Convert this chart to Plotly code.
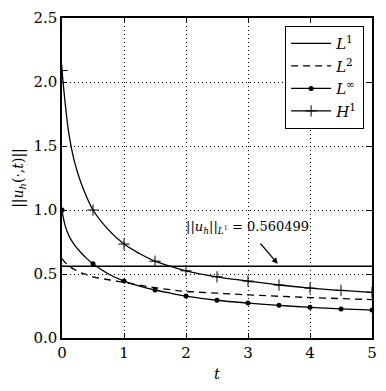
import plotly.graph_objects as go

# values
t = [0, 0.025, 0.05, 0.1, 0.15, 0.2, 0.3, 0.4, 0.5, 0.75, 1, 1.25, 1.5, 1.75,
     2, 2.5, 3, 3.5, 4, 4.5, 5]
h1 = [2.09, 1.96, 1.84, 1.63, 1.49, 1.38, 1.22, 1.10, 1.00, 0.845, 0.734, 0.66,
      0.60, 0.56, 0.525, 0.478, 0.445, 0.414, 0.39, 0.372, 0.357]
linf = [1.0, 0.93, 0.88, 0.81, 0.765, 0.727, 0.67, 0.62, 0.58, 0.50, 0.445, 0.405,
        0.375, 0.35, 0.328, 0.295, 0.273, 0.255, 0.24, 0.227, 0.218]
l2 = [0.62, 0.605, 0.59, 0.57, 0.55, 0.535, 0.51, 0.495, 0.478, 0.455, 0.435, 0.413,
      0.393, 0.377, 0.364, 0.35, 0.337, 0.326, 0.316, 0.308, 0.30]
l1_t = [0, 5]
l1_value = 0.560499

# markers every 0.5 in t
mk = [i for i, v in enumerate(t) if abs(v * 2 - round(v * 2)) < 1e-9]
t_mk = [t[i] for i in mk]

FONT = "DejaVu Serif"
BLACK = "black"
LW = 1.3

fig = go.Figure()

# L1 (constant)
fig.add_trace(go.Scatter(
    x=l1_t, y=[l1_value] * len(l1_t), mode="lines",
    name="<i>L</i><sup>1</sup>", line=dict(color=BLACK, width=LW),
))
# L2
fig.add_trace(go.Scatter(
    x=t, y=l2, mode="lines", line_shape="spline",
    name="<i>L</i><sup>2</sup>", line=dict(color=BLACK, width=LW, dash="7px,5px"),
))
# L-infinity
fig.add_trace(go.Scatter(
    x=t, y=linf, mode="lines", line_shape="spline", showlegend=False,
    line=dict(color=BLACK, width=LW),
))
fig.add_trace(go.Scatter(
    x=t_mk, y=[linf[i] for i in mk], mode="markers", showlegend=False,
    marker=dict(symbol="circle", size=5, color=BLACK),
))
fig.add_trace(go.Scatter(
    x=[None], y=[None], mode="lines+markers", name="<i>L</i><sup>∞</sup>",
    line=dict(color=BLACK, width=LW), marker=dict(symbol="circle", size=5, color=BLACK),
))
# H1
fig.add_trace(go.Scatter(
    x=t, y=h1, mode="lines", line_shape="spline", showlegend=False,
    line=dict(color=BLACK, width=LW),
))
fig.add_trace(go.Scatter(
    x=t_mk, y=[h1[i] for i in mk], mode="markers", showlegend=False,
    marker=dict(symbol="cross-thin", size=8, line=dict(color=BLACK, width=1)),
))
fig.add_trace(go.Scatter(
    x=[None], y=[None], mode="lines+markers", name="<i>H</i><sup>1</sup>",
    line=dict(color=BLACK, width=LW),
    marker=dict(symbol="cross-thin", size=8, line=dict(color=BLACK, width=1)),
))

# annotation + arrow
fig.add_annotation(
    x=2.99, y=0.86, xref="x", yref="y", showarrow=False,
    text=f"||<i>u<sub>h</sub></i>||<sub><i>L</i><sup>1</sup></sub> = {l1_value}",
    font=dict(family=FONT, size=13, color=BLACK),
)
fig.add_annotation(
    x=3.48, y=0.58, ax=3.18, ay=0.75, xref="x", yref="y", axref="x", ayref="y",
    text="", showarrow=True, arrowhead=2, arrowsize=1, arrowwidth=1.2,
    arrowcolor=BLACK,
)

axis_common = dict(
    showline=True, linecolor=BLACK, linewidth=1.5, mirror="ticks",
    ticks="inside", ticklen=5, tickcolor=BLACK, tickwidth=1,
    showgrid=True, gridcolor=BLACK, gridwidth=0.8, griddash="1px,3px",
    zeroline=False, tickfont=dict(family=FONT, size=15, color=BLACK),
    automargin=False,
)

# the page body adds an 8px offset, so the figure is sized to fit inside it
fig.update_layout(
    width=370, height=375,
    margin=dict(l=54, r=6, t=10, b=45, autoexpand=False),
    paper_bgcolor="white", plot_bgcolor="white",
    font=dict(family=FONT, color=BLACK),
    xaxis=dict(range=[0, 5], dtick=1, title=dict(text="<i>t</i>", font=dict(size=15), standoff=8),
               **axis_common),
    yaxis=dict(range=[0, 2.5], dtick=0.5, tickformat=".1f",
               title=dict(text="||<i>u<sub>h</sub></i>(·,<i>t</i>)||", font=dict(size=14), standoff=6),
               **axis_common),
    legend=dict(
        x=0.974, y=0.975, xanchor="right", yanchor="top",
        bgcolor="white", bordercolor=BLACK, borderwidth=1.2,
        font=dict(family=FONT, size=15, color=BLACK),
        tracegroupgap=0, itemwidth=40,
    ),
)

fig.write_html("out.html")
